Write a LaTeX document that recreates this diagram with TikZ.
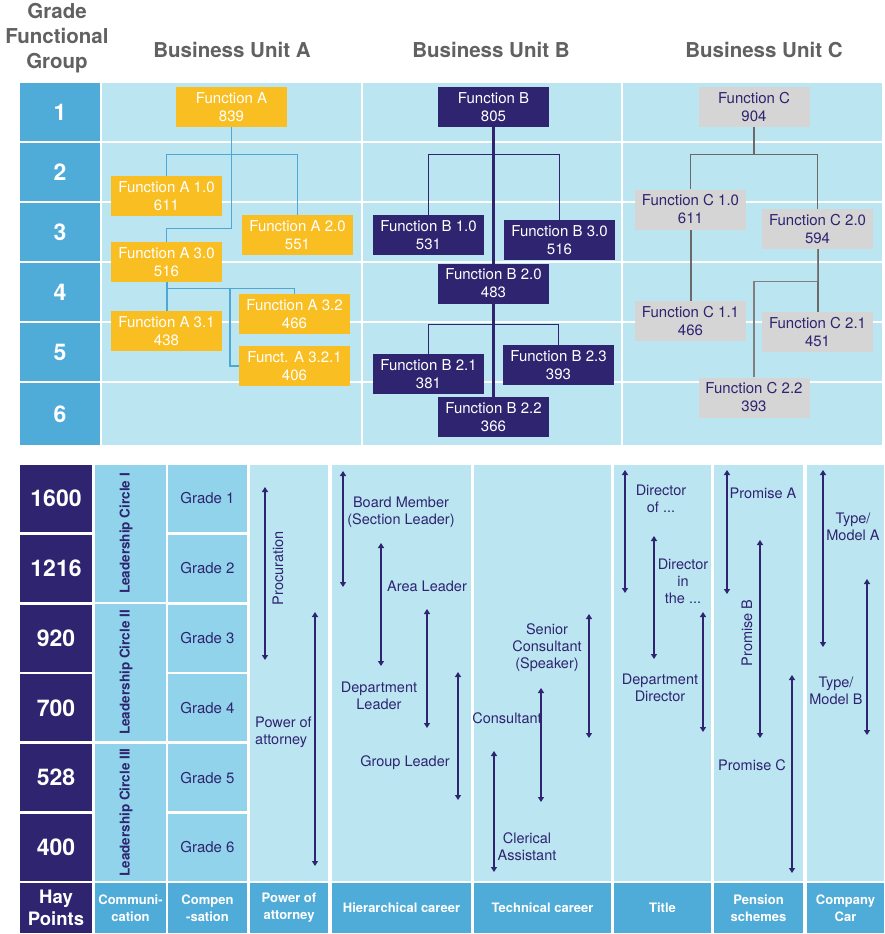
\documentclass[tikz,border=0pt]{standalone}
\usepackage{fontspec}
\setmainfont{TeX Gyre Heros}
\usetikzlibrary{arrows.meta}

\definecolor{cellblue}{HTML}{BCE5F2}
\definecolor{midblue}{HTML}{91D3EA}
\definecolor{headblue}{HTML}{4FABD7}
\definecolor{navy}{HTML}{2E2470}
\definecolor{orangeA}{HTML}{F8BE22}
\definecolor{grayC}{HTML}{D5D5D5}
\definecolor{linkblue}{HTML}{4DA8D6}
\definecolor{linkgray}{HTML}{6A6A6A}
\definecolor{textgray}{HTML}{616161}

\pgfdeclarelayer{bg}
\pgfdeclarelayer{links}
\pgfsetlayers{bg,links,main}

\begin{document}
\begin{tikzpicture}[x=1pt, y=-1pt, >={Triangle[width=6pt,length=5pt]},
    headtxt/.style={text=textgray, align=center, font=\bfseries\fontsize{20.5}{25}\selectfont},
    gradenum/.style={fill=headblue, text=white, minimum width=80pt, inner sep=0pt, font=\bfseries\fontsize{23}{26}\selectfont},
    funcbox/.style={minimum width=111pt, minimum height=40pt, inner sep=0pt, align=center, font=\fontsize{15}{18}\selectfont},
    boxA/.style={funcbox, fill=orangeA, text=white},
    boxB/.style={funcbox, fill=navy, text=white},
    boxC/.style={funcbox, fill=grayC, text=navy},
    linkA/.style={draw=linkblue, line width=1.3pt},
    linkB/.style={draw=navy, line width=1.3pt},
    linkC/.style={draw=linkgray, line width=1.3pt},
    haynum/.style={fill=navy, text=white, minimum width=72pt, minimum height=67pt, inner sep=0pt, align=center, font=\bfseries\fontsize{23}{26}\selectfont},
    midcell/.style={fill=midblue, text=navy, minimum height=67pt, inner sep=0pt, font=\fontsize{15}{18}\selectfont},
    leadtxt/.style={text=navy, inner sep=0pt, font=\bfseries\fontsize{13.5}{16}\selectfont},
    footcell/.style={fill=headblue, text=white, minimum height=50pt, inner sep=0pt, align=center, font=\bfseries\fontsize{13}{17}\selectfont},
    lbl/.style={text=navy, inner sep=0pt, align=center, font=\fontsize{14.5}{17}\selectfont},
    band/.style={<->, navy, line width=1.2pt}]

    \useasboundingbox (0,0) rectangle (885,934);

    % 表头
    \node[headtxt] (grphead) at (57,38) {Grade\\Functional\\Group};
    \node[headtxt] (unitA) at (232,50) {Business Unit A};
    \node[headtxt] (unitB) at (491,50) {Business Unit B};
    \node[headtxt] (unitC) at (764,50) {Business Unit C};

    % 上半部分：等级行
    \foreach \i/\yt/\yb in {1/83/141, 2/143/201, 3/203/261, 4/263/321, 5/323/381, 6/383/445}{
        \node[gradenum, minimum height={\yb-\yt}] (grp\i) at (60,{(\yt+\yb)/2}) {\i};
        \begin{pgfonlayer}{bg}
            \foreach \c in {0,1,2}
                \fill[cellblue] ({102+260.5*\c},\yt) rectangle ({360.5+260.5*\c},\yb);
        \end{pgfonlayer}
    }

    % Business Unit A
    \node[boxA] (fa)    at (231.5,107) {Function A\\839};
    \node[boxA] (fa10)  at (166.5,196) {Function A 1.0\\611};
    \node[boxA] (fa20)  at (297.5,235) {Function A 2.0\\551};
    \node[boxA] (fa30)  at (166.5,262) {Function A 3.0\\516};
    \node[boxA] (fa31)  at (166.5,331) {Function A 3.1\\438};
    \node[boxA] (fa32)  at (294.5,314) {Function A 3.2\\466};
    \node[boxA] (fa321) at (294.5,366) {Funct. A 3.2.1\\406};

    % Business Unit B
    \node[boxB] (fb)   at (493.5,107)   {Function B\\805};
    \node[boxB] (fb10) at (428.5,235)   {Function B 1.0\\531};
    \node[boxB] (fb30) at (559.5,240)   {Function B 3.0\\516};
    \node[boxB] (fb20) at (493.5,283.5) {Function B 2.0\\483};
    \node[boxB] (fb21) at (428.5,374)   {Function B 2.1\\381};
    \node[boxB] (fb23) at (558.5,365)   {Function B 2.3\\393};
    \node[boxB] (fb22) at (493.5,417)   {Function B 2.2\\366};

    % Business Unit C
    \node[boxC] (fc)   at (754,107)     {Function C\\904};
    \node[boxC] (fc10) at (690.5,209.5) {Function C 1.0\\611};
    \node[boxC] (fc20) at (817.5,229)   {Function C 2.0\\594};
    \node[boxC] (fc11) at (690.5,321)   {Function C 1.1\\466};
    \node[boxC] (fc21) at (817.5,332)   {Function C 2.1\\451};
    \node[boxC] (fc22) at (754,397.5)   {Function C 2.2\\393};

    % 连线
    \coordinate (afork) at (230,288);
    \begin{pgfonlayer}{links}
        \draw[linkA] (fa.south) -- ++(0,101) -| (fa30.north);
        \draw[linkA] (fa10.north) -- ++(0,-21) -| (fa20.north);
        \draw[linkA, line width=2pt] (fa30.south) -- (fa31.north);
        \draw[linkA] (fa30.south) -- ++(0,6) -| (fa32.north);
        \draw[linkA] (afork) |- (fa321.west);

        \draw[linkB, line width=2.4pt] (fb.south) -- (fb22.north);
        \draw[linkB] (fb10.north) -- ++(0,-60) -| (fb30.north);
        \draw[linkB] (fb21.north) -- ++(0,-29) -| (fb23.north);

        \draw[linkC, line width=2pt] (fc.south) -- ++(0,28);
        \draw[linkC] (fc10.north) -- ++(0,-35) -| (fc20.north);
        \draw[linkC, line width=2pt] (fc10.south) -- (fc11.north);
        \draw[linkC, line width=2pt] (fc20.south) -- (fc21.north);
        \draw[linkC, draw=gray] (fc20.south) -- ++(0,32) -| (fc22.north);
    \end{pgfonlayer}

    % 下半部分：Hay 点数与等级
    \foreach \v [count=\i] in {1600,1216,920,700,528,400}{
        \pgfmathsetmacro{\yc}{498.5+69.8*(\i-1)}
        \node[haynum] (hay\i) at (56,\yc) {\v};
        \node[midcell, minimum width=79pt] (grade\i) at (207.5,\yc) {Grade \i};
    }
    \foreach \r/\yc in {I/533.5, II/672.5, III/812.5}{
        \node[midcell, minimum width=71pt, minimum height=137pt] (lead\r) at (130.5,\yc) {};
        \node[leadtxt, rotate=90] (leadtxt\r) at ([xshift=-4.5pt]lead\r.center) {Leadership Circle \r};
    }
    \begin{pgfonlayer}{bg}
        \foreach \xl/\xr in {250/328, 332/471, 474/611, 614/711, 714/803, 807/884}
            \fill[cellblue] (\xl,465) rectangle (\xr,881);
    \end{pgfonlayer}

    % 底栏
    \node[haynum, minimum height=50pt, font=\bfseries\fontsize{18.5}{22}\selectfont] (hayfoot) at (56,908) {Hay\\Points};
    \foreach \n/\cx/\w/\t in {comm/130.5/71/{Communi-\\cation}, comp/207.5/79/{Compen\\-sation},
            poa/289/78/{Power of\\attorney}, hier/401.5/139/{Hierarchical career},
            tech/542.5/137/{Technical career}, title/662.5/97/{Title},
            pens/758.5/89/{Pension\\schemes}, car/845.5/77/{Company\\Car}}
        \node[footcell, minimum width=\w] (foot\n) at (\cx,908) {\t};

    % 范围箭头
    \foreach \x/\ya/\yb in {265/487/660, 315/612/866,
            343/471/587, 381/543/666, 427/609/728, 458/672/800,
            589/614/738, 541/688/802, 494/751/872,
            625/470/593, 654/536/659, 703/612/732,
            727/470/594, 760/540/738, 792/675/873,
            823/470/647, 867/579/735}
        \draw[band] (\x,\ya) -- (\x,\yb);

    % 标签
    \node[lbl, rotate=90] (procur) at (278,568) {Procuration};
    \node[lbl, align=left, anchor=west] (poatxt) at (255,732) {Power of\\attorney};
    \node[lbl] (board)   at (401,512.5) {Board Member\\(Section Leader)};
    \node[lbl] (area)    at (427,586)   {Area Leader};
    \node[lbl] (deptl)   at (379,695.5) {Department\\Leader};
    \node[lbl] (group)   at (405,763)   {Group Leader};
    \node[lbl] (senior)  at (547,647.5) {Senior\\Consultant\\(Speaker)};
    \node[lbl] (consult) at (507,718)   {Consultant};
    \node[lbl] (clerk)   at (527,846.5) {Clerical\\Assistant};
    \node[lbl] (dirof)   at (661,498.5) {Director\\of ...};
    \node[lbl] (dirin)   at (683,581)   {Director\\in\\the ...};
    \node[lbl] (deptd)   at (660,687.5) {Department\\Director};
    \node[lbl] (promA)   at (763,493)   {Promise A};
    \node[lbl, rotate=90] (promB) at (747,633) {Promise B};
    \node[lbl] (promC)   at (752,765)   {Promise C};
    \node[lbl] (typeA)   at (853,527)   {Type/\\Model A};
    \node[lbl] (typeB)   at (836,691)   {Type/\\Model B};
\end{tikzpicture}
\end{document}
